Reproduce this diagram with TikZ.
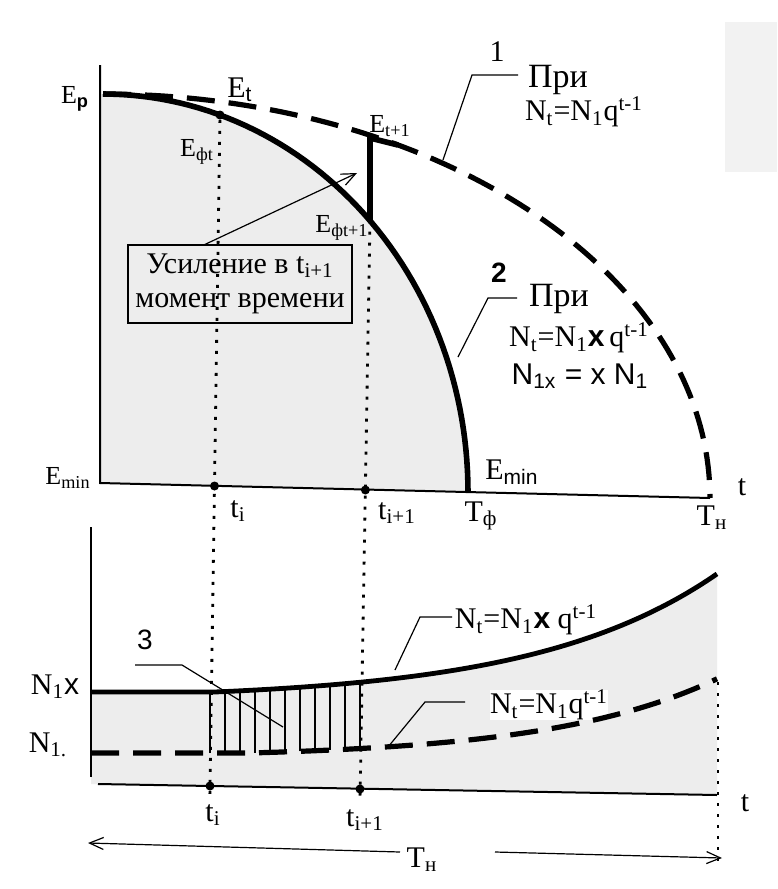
\documentclass[tikz,border=0pt]{standalone}
\usepackage{fontspec}
\setmainfont{Liberation Serif}
\setsansfont{Liberation Sans}
\usetikzlibrary{arrows.meta}

\begin{document}
\begin{tikzpicture}[x=0.5pt,y=-0.5pt,inner sep=1pt,
    font=\fontsize{13}{15}\selectfont,
    declare function={nx(\t)=692-8*(exp(0.0055*max(\t-215,0))-1);
                      no(\t)=753-4.8*(exp(0.006*max(\t-250,0))-1);},
    axis/.style={line width=1pt},
    curve/.style={line width=2.8pt,line join=miter},
    dcurve/.style={line width=2.6pt,dash pattern=on 14pt off 7pt},
    dotline/.style={line width=1.4pt,dash pattern=on 1.5pt off 4pt},
    leader/.style={line width=0.6pt},
    hatch/.style={line width=1pt},
    tdot/.style={circle,fill,inner sep=0pt,minimum size=4.5pt},
    big/.style={font=\fontsize{15}{17}\selectfont},
    pri/.style={font=\fontsize{17}{19}\selectfont},
    >={Straight Barb[length=7pt,width=6pt]}]
    \fill[white] (0,0) rectangle (777,889);
    \useasboundingbox (0,0) rectangle (777,889);
    \fill[black!5] (725,22) rectangle (777,172);

    \fill[black!7] (100,94) -- plot[domain=0:90,samples=60] ({103+365*sin(\x)},{492-398*cos(\x)}) -- (100,483) -- cycle;
    \fill[black!7] (91,692) -- plot[domain=91:717,samples=80] (\x,{nx(\x)}) -- (717,795) -- (91,784) -- cycle;
    \foreach \x in {210,225,...,360}
        \draw[hatch] (\x,{no(\x)}) -- (\x,{nx(\x)});

    \coordinate (Y1) at (100,65);
    \coordinate (O1) at (100,483);
    \coordinate (X1) at (710,498);
    \coordinate (Y2) at (91,527);
    \coordinate (O2) at (91,777);
    \coordinate (A2) at (98,784);
    \coordinate (X2) at (717,795);
    \draw[axis] (Y1) -- (O1) -- (X1);
    \draw[axis] (Y2) -- (O2);
    \draw[axis] (A2) -- (X2);

    \node[tdot] (Pt) at (220,115) {};
    \coordinate (J0) at (370,220.6);
    \coordinate (J1) at (370,138);
    \coordinate (J2) at (398,145);
    \coordinate (ti end) at (209.8,800);
    \coordinate (ti1 end) at (360,800);
    \draw[dotline] (Pt) -- (ti end);
    \draw[dotline] (J0) -- (ti1 end);
    \coordinate (Tn top) at (718,682);
    \coordinate (Tn end) at (718,862);
    \draw[dotline] (Tn top) -- (Tn end);
    \node[tdot] at (214.5,486) {};
    \node[tdot] at (365.4,490) {};
    \node[tdot] at (210,786) {};
    \node[tdot] at (360,789) {};

    \node[big,fill=white,inner sep=0pt] (f5) at (549,705) {N\textsubscript{t}=N\textsubscript{1}q\textsuperscript{t-1}};

    \draw[curve] plot[domain=0:90,samples=60] ({103+365*sin(\x)},{492-398*cos(\x)});
    \draw[dcurve] plot[domain=0:90,samples=80] ({103+607*sin(\x)},{498-404*cos(\x)});
    \draw[curve] (J0) -- (J1) -- (J2);
    \draw[curve,line width=2.4pt] plot[domain=91:717,samples=80] (\x,{nx(\x)});
    \draw[dcurve] plot[domain=91:717,samples=80] (\x,{no(\x)});

    \node (Ep) at (75,99) {E\textsubscript{\sffamily\bfseries p}};
    \node[big] (Et) at (240,90) {E\textsubscript{\sffamily t}};
    \node (Eft) at (197,152) {E\textsubscript{фt}};
    \node (Et1) at (390,126) {E\textsubscript{t+1}};
    \node (Eft1) at (342,228) {E\textsubscript{фt+1}};
    \node (Emin) at (68,478) {E\textsubscript{min}};
    \node[big] (Emin2) at (512,472) {E\textsubscript{\sffamily min}};
    \node[big] (t1) at (742,487) {t};
    \node[big] (ti) at (238,511) {t\textsubscript{i}};
    \node[big] (ti1) at (397,513) {t\textsubscript{i+1}};
    \node[big] (Tf) at (481,516) {T\textsubscript{ф}};
    \node[big] (Tn) at (712,518) {T\textsubscript{н}};

    \node[draw,leader,big,align=center,minimum width=112pt,minimum height=39pt] (gain) at (240,284)
        {Усиление в t\textsubscript{i+1}\\момент времени};
    \coordinate (gain tip) at (357,173);
    \draw[leader,->] ([xshift=-17.5pt]gain.north) -- (gain tip);

    \node[big] (n1) at (497,52) {1};
    \node[pri] (pri1) at (558,80) {При};
    \node[big] (f1) at (584,112) {N\textsubscript{t}=N\textsubscript{1}q\textsuperscript{t-1}};
    \coordinate (c1a) at (443,160);
    \coordinate (c1b) at (472,75);
    \coordinate (c1c) at (518,75);
    \draw[leader] (c1a) -- (c1b) -- (c1c);

    \node[font=\sffamily\bfseries\fontsize{14}{16}\selectfont] (n2) at (499,273) {2};
    \node[pri] (pri2) at (559,299) {При};
    \node[big] (f2) at (579,338) {N\textsubscript{t}=N\textsubscript{1}\textsf{\textbf{x}}\,q\textsuperscript{t-1}};
    \node[font=\sffamily\fontsize{15}{17}\selectfont] (f3) at (580,376) {N\textsubscript{1x} = x N\textsubscript{1}};
    \coordinate (c2a) at (458,357);
    \coordinate (c2b) at (488,298);
    \coordinate (c2c) at (517,298);
    \draw[leader] (c2a) -- (c2b) -- (c2c);

    \node[font=\sffamily\fontsize{14}{16}\selectfont] (n3) at (145,640) {3};
    \coordinate (c3a) at (135,665);
    \coordinate (c3b) at (182,665);
    \coordinate (c3c) at (283,727);
    \draw[leader] (c3a) -- (c3b) -- (c3c);
    \node[big] (N1x) at (55,687) {N\textsubscript{1}\textsf{x}};
    \node[big] (N1) at (48,745) {N\textsubscript{1.}};

    \node[big] (f4) at (526,620) {N\textsubscript{t}=N\textsubscript{1}\textsf{\textbf{x}} q\textsuperscript{t-1}};
    \coordinate (c4a) at (395,670);
    \coordinate (c4b) at (420,617);
    \coordinate (c4c) at (452,617);
    \draw[leader] (c4a) -- (c4b) -- (c4c);
    \coordinate (c5a) at (388,747);
    \coordinate (c5b) at (425,702);
    \coordinate (c5c) at (465,702);
    \draw[leader] (c5a) -- (c5b) -- (c5c);

    \node[big] (bti) at (213,815) {t\textsubscript{i}};
    \node[big] (bti1) at (365,820) {t\textsubscript{i+1}};
    \node[big] (t2) at (745,803) {t};
    \node[big] (bTn) at (422,860) {T\textsubscript{н}};
    \coordinate (L0) at (400,852);
    \coordinate (L1) at (88,843);
    \coordinate (R0) at (495,852);
    \coordinate (R1) at (722,858);
    \draw[leader,->] (L0) -- (L1);
    \draw[leader,->] (R0) -- (R1);
\end{tikzpicture}
\end{document}
